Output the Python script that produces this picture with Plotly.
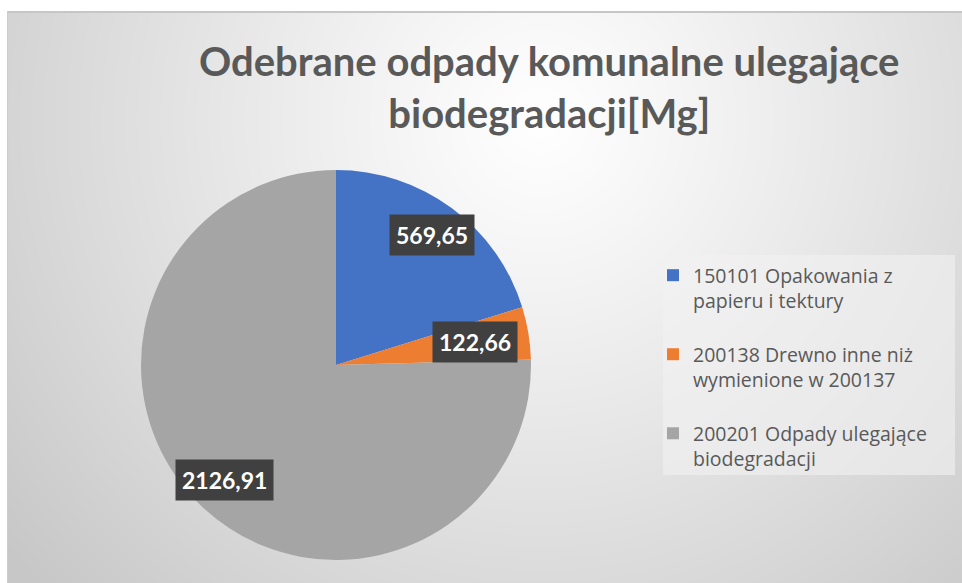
import base64, struct, zlib, math
import numpy as np
import plotly.graph_objects as go

# ---------------- data ----------------
categories = [
    "150101 Opakowania z<br>papieru i tektury",
    "200138 Drewno inne niż<br>wymienione w 200137",
    "200201 Odpady ulegające<br>biodegradacji",
]
values = [569.65, 122.66, 2126.91]
value_labels = ["569,65", "122,66", "2126,91"]
colors = ["#4472C4", "#ED7D31", "#A5A5A5"]
title_text = "Odebrane odpady komunalne ulegające<br>biodegradacji[Mg]"

W, H = 962, 583

# ---------------- background (radial gradient) ----------------
def png_uri(arr):
    h, w, _ = arr.shape
    raw = b"".join(b"\x00" + arr[i].tobytes() for i in range(h))
    def chunk(t, d):
        c = struct.pack(">I", len(d)) + t + d
        return c + struct.pack(">I", zlib.crc32(t + d) & 0xFFFFFFFF)
    png = b"\x89PNG\r\n\x1a\n" + chunk(b"IHDR", struct.pack(">IIBBBBB", w, h, 8, 2, 0, 0, 0))
    png += chunk(b"IDAT", zlib.compress(raw, 9)) + chunk(b"IEND", b"")
    return "data:image/png;base64," + base64.b64encode(png).decode()

yy, xx = np.mgrid[0:H, 0:W].astype(float)
d = np.sqrt((xx - 540) ** 2 + (yy - 120) ** 2)
t = np.clip(d / 690.0, 0, 1) ** 1.1
v = 255 - t * 56
img = np.stack([v, v, v], axis=-1)
img[yy < 11] = 255
img[xx < 7] = 255
img[(yy >= 11) & (yy < 13) & (xx >= 7)] = [198, 198, 198]
img[(xx >= 7) & (xx < 8) & (yy >= 11)] = [205, 205, 205]
img = img.astype(np.uint8)
bg_uri = png_uri(img)

# ---------------- pie geometry ----------------
cx_px, cy_px, r_px = 336, 365, 195
dom_x = [(cx_px - r_px) / W, (cx_px + r_px) / W]
dom_y = [(H - cy_px - r_px) / H, (H - cy_px + r_px) / H]

# legend entries get an extra blank line so the items are spaced like the original
legend_names = [c + "<br>\u00a0" for c in categories]
hover_names = [c.replace("<br>", " ") for c in categories]

fig = go.Figure()
fig.add_trace(go.Pie(
    labels=legend_names,
    values=values,
    customdata=hover_names,
    sort=False,
    direction="clockwise",
    rotation=0,
    marker=dict(colors=colors, line=dict(width=0)),
    textinfo="none",
    hovertemplate="%{customdata}: %{value}<extra></extra>",
    domain=dict(x=dom_x, y=dom_y),
))

# data labels, placed from the values along each slice's mid-angle
radial = [0.83, 0.72, 0.82]
total = sum(values)
cum = 0.0
annotations = []
for val, lab, rf in zip(values, value_labels, radial):
    mid = (cum + val / 2) / total * 2 * math.pi
    cum += val
    px = cx_px + rf * r_px * math.sin(mid)
    py = cy_px - rf * r_px * math.cos(mid)
    annotations.append(dict(
        x=px / W, y=1 - py / H, xref="paper", yref="paper",
        text="<b>" + lab + "</b>", showarrow=False,
        font=dict(family="Lato", size=23, color="white"),
        bgcolor="#404040", borderpad=6,
        xanchor="center", yanchor="middle",
    ))

annotations.append(dict(
    x=549 / W, y=1 - 87 / H, xref="paper", yref="paper",
    text="<b>" + title_text + "</b>", showarrow=False,
    font=dict(family="Lato", size=40, color="#595959"),
    xanchor="center", yanchor="middle",
))

fig.update_layout(
    width=W, height=H,
    margin=dict(l=0, r=0, t=0, b=0),
    paper_bgcolor="white",
    plot_bgcolor="rgba(0,0,0,0)",
    showlegend=True,
    legend=dict(
        x=653 / W, y=1 - 256 / H, xanchor="left", yanchor="top",
        font=dict(family="Open Sans", size=19.5, color="#595959"),
        bgcolor="rgba(0,0,0,0)", valign="top", itemwidth=30,
        itemclick=False, itemdoubleclick=False,
    ),
    images=[dict(source=bg_uri, xref="paper", yref="paper", x=0, y=1,
                 sizex=1, sizey=1, sizing="stretch", layer="below")],
    shapes=[dict(type="rect", xref="paper", yref="paper",
                 x0=663 / W, x1=955 / W, y0=1 - 475 / H, y1=1 - 255 / H,
                 fillcolor="rgba(242,242,242,0.6)", line=dict(width=0), layer="below")],
    annotations=annotations,
)

fig.write_html("out.html", config={"displayModeBar": False},
               post_script="document.body.style.margin='0';document.body.style.overflow='hidden';")
